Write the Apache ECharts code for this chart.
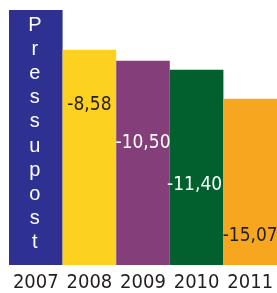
<!DOCTYPE html>
<html>
<head>
<meta charset="utf-8">
<script src="https://cdn.jsdelivr.net/npm/echarts@6/dist/echarts.min.js"></script>
<style>
html, body { margin: 0; padding: 0; background: #fff; }
#chart { width: 277px; height: 293px; }
</style>
</head>
<body>
<div id="chart"></div>
<script>
// data
var years = ['2007', '2008', '2009', '2010', '2011'];
var barHeights = [100, 84.4, 80.1, 76.6, 65.2];   // relative height, 2007 = 100
var barLabels = ['Pressupost', '-8,58', '-10,50', '-11,40', '-15,07'];

// look
var barColors = ['#2e3192', '#fdd11f', '#843f7b', '#02602f', '#f6a71f'];
var labelColors = ['#ffffff', '#231f20', '#ffffff', '#ffffff', '#231f20'];
var labelOffsets = [[0, 0], [0, 46], [0, 73], [-2, 106], [0, 128]];
var narrow = '"Liberation Sans Narrow", "DejaVu Sans Condensed", "Liberation Sans", sans-serif';

var myChart = echarts.init(document.getElementById('chart'));

var seriesData = [];
for (var i = 0; i < years.length; i++) {
	var item = {
		value: barHeights[i],
		itemStyle: { color: barColors[i] },
		label: {
			show: true,
			position: 'insideTop',
			distance: 0,
			offset: labelOffsets[i],
			color: labelColors[i],
			fontFamily: narrow,
			fontSize: 19,
			formatter: barLabels[i]
		}
	};
	if (i == 0) {
		// vertical stacked letters
		item.label.formatter = barLabels[i].split('').join('\n');
		item.label.fontFamily = '"Liberation Sans", Arial, sans-serif';
		item.label.fontSize = 20;
		item.label.lineHeight = 24.2;
		item.label.distance = 3;
		item.label.offset = [-1, 0];
	}
	seriesData.push(item);
}

var option = {
	animation: false,
	grid: { left: 9, right: 0, top: 10, bottom: 27 },
	xAxis: {
		type: 'category',
		data: years,
		axisLine: { show: false },
		axisTick: { show: false },
		axisLabel: {
			interval: 0,
			margin: 8,
			color: '#231f20',
			fontFamily: narrow,
			fontSize: 20
		}
	},
	yAxis: {
		type: 'value',
		min: 0,
		max: 100,
		show: false,
		splitLine: { show: false }
	},
	series: [
		{
			type: 'bar',
			barWidth: '100%',
			data: seriesData
		}
	]
};
myChart.setOption(option);
</script>
</body>
</html>
